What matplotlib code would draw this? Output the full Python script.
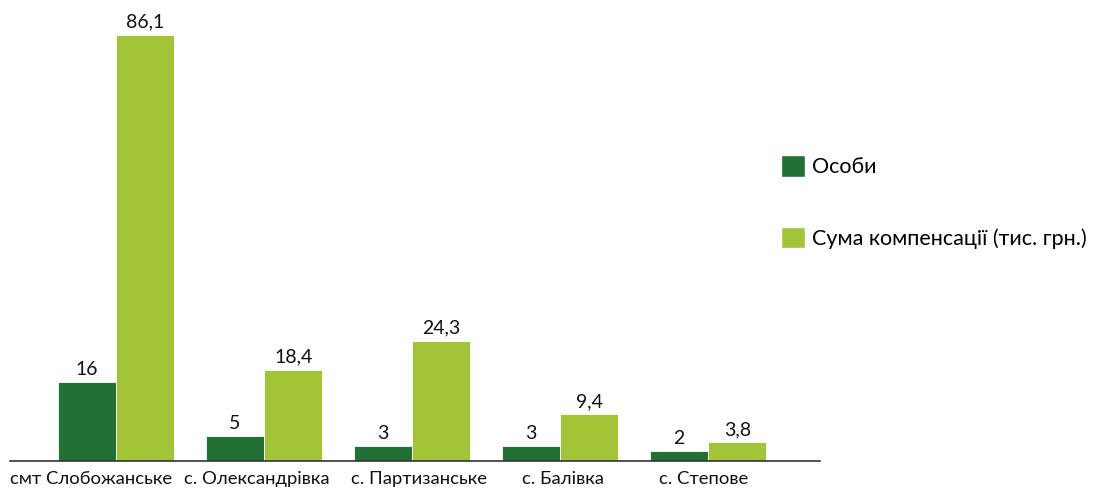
import matplotlib
matplotlib.use("Agg")
import matplotlib.pyplot as plt
from matplotlib.patches import Patch
import numpy as np

categories = ["смт Слобожанське", "с. Олександрівка", "с. Партизанське", "с. Балівка", "с. Степове"]
persons = [16, 5, 3, 3, 2]
compensation = [86.1, 18.4, 24.3, 9.4, 3.8]
series_names = ["Особи", "Сума компенсації (тис. грн.)"]

dark = "#217135"
light = "#a2c438"

# layout only: small horizontal offsets of category labels (in category units)
label_shift = [-0.17, -0.05, 0.05, 0.02, -0.03]

plt.rcParams['font.family'] = ['Lato', 'DejaVu Sans']

fig = plt.figure(figsize=(11.13, 4.93), dpi=100)
W, H = 1113, 493
ax = fig.add_axes([10 / W, (H - 461) / H, 810 / W, 451 / H])

x = np.arange(len(categories))
w = 0.395
fmt = lambda v: f"{v:g}".replace(".", ",")
b1 = ax.bar(x - w / 2, persons, w, color=dark, edgecolor="white", linewidth=0.6)
b2 = ax.bar(x + w / 2, compensation, w, color=light, edgecolor="white", linewidth=0.6)
ax.bar_label(b1, labels=[fmt(v) for v in persons], padding=3, fontsize=14, color="#111111")
ax.bar_label(b2, labels=[fmt(v) for v in compensation], padding=3, fontsize=14, color="#111111")

ax.set_xlim(-0.716, 4.757)
ax.set_ylim(0, 91.1)
ax.set_xticks(x + np.array(label_shift))
ax.set_xticklabels(categories, fontsize=13.3, color="#111111")
ax.tick_params(axis="x", length=0, pad=7)
ax.set_yticks([])
for s in ["top", "right", "left"]:
    ax.spines[s].set_visible(False)
ax.spines["bottom"].set_color("#333333")
ax.spines["bottom"].set_linewidth(1.2)

handles = [Patch(facecolor=dark, edgecolor="white"), Patch(facecolor=light, edgecolor="white")]
fig.legend(handles, series_names, loc="upper left", bbox_to_anchor=(762 / W, (H - 136) / H),
           frameon=False, fontsize=15.5, handlelength=1.12, handleheight=1.16,
           handletextpad=0.3, labelspacing=2.3)

fig.savefig("out.png", dpi=100)
